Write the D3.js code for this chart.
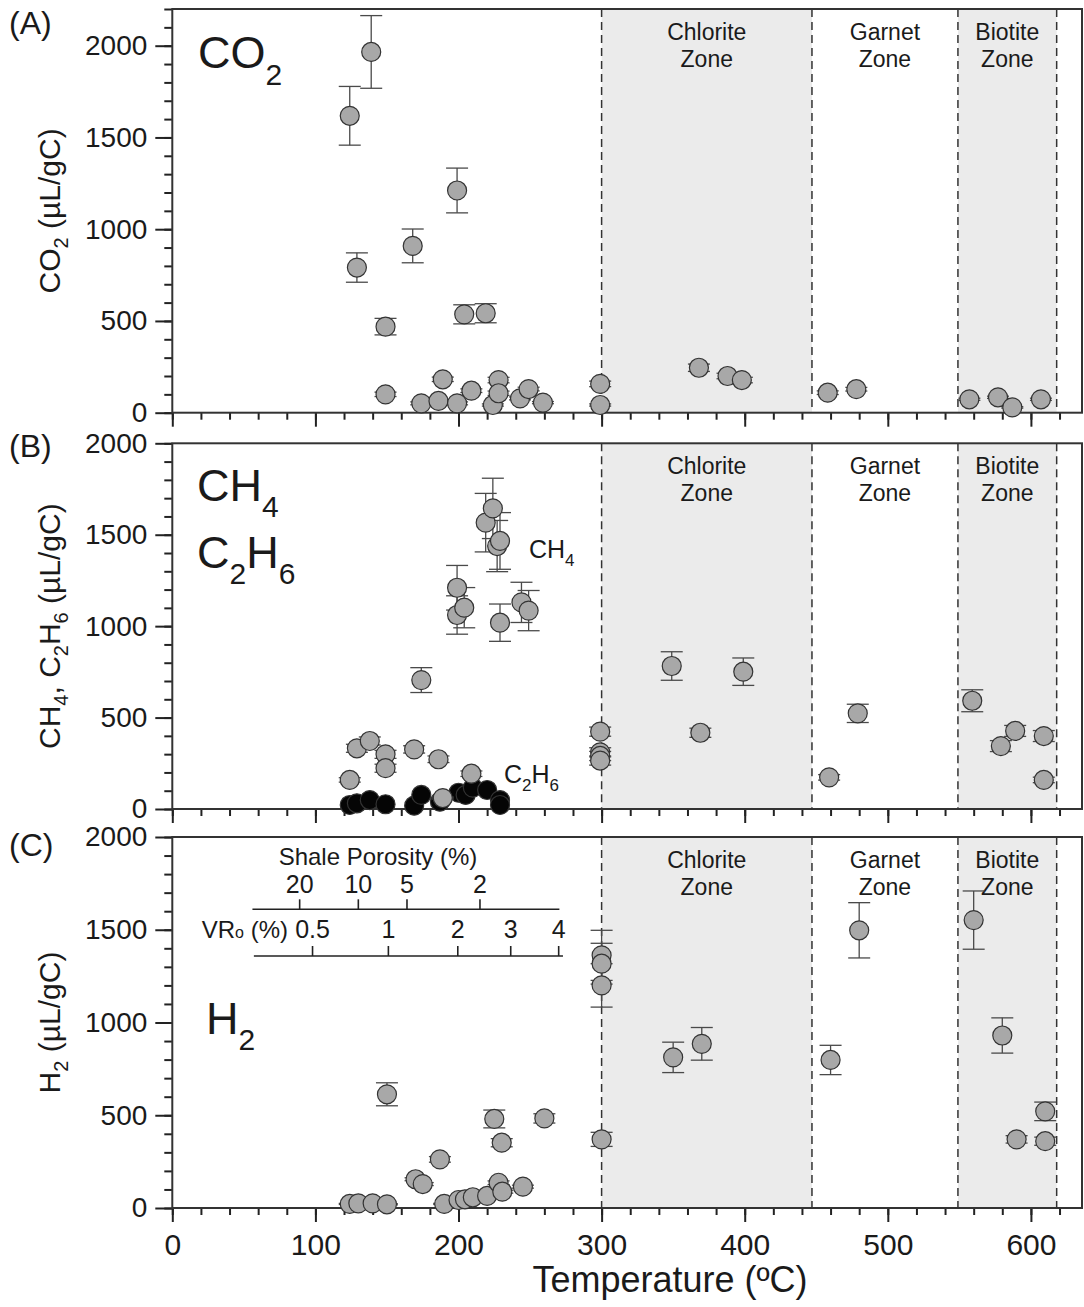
<!DOCTYPE html>
<html>
<head>
<meta charset="utf-8">
<script src="https://cdn.jsdelivr.net/npm/d3@7"></script>
<style>
  body { margin: 0; background: #fff; }
  svg text { font-family: "Liberation Sans", Arial, Helvetica, sans-serif; fill: #1a1a1a; }
</style>
</head>
<body>
<svg id="chart" width="1084" height="1307"></svg>
<script>
// ---- data (temperature in ºC, gas yield in µL/gC) ----
const co2T = [124, 139, 129, 168, 149, 149, 174, 186, 189, 199, 199, 204, 209, 219, 224, 228, 228, 243, 249, 259, 299, 299, 368, 388, 398, 458, 478, 557, 577, 587, 607]
const co2V = [1618, 1966, 791, 909, 469, 100, 51, 64, 182, 51, 1211, 536, 120, 542, 42, 178, 106, 78, 129, 55, 157, 42, 245, 200, 178, 109, 128, 73, 84, 29, 73]
const co2E = [160, 198, 80, 92, 45, 12, 8, 8, 12, 8, 122, 52, 10, 52, 6, 15, 12, 8, 10, 6, 15, 6, 20, 15, 15, 10, 10, 6, 6, 4, 6]

const ch4T = [124, 129, 138, 149, 149, 169, 174, 186, 189, 199, 199, 204, 209, 219, 224, 227, 229, 229, 244, 249, 299, 299, 299, 299, 349, 369, 399, 459, 479, 559, 579, 589, 609, 609]
const ch4V = [159, 332, 372, 299, 223, 326, 705, 272, 60, 1210, 1061, 1101, 193, 1566, 1644, 1438, 1466, 1019, 1130, 1085, 423, 310, 290, 265, 782, 417, 751, 173, 523, 592, 344, 427, 399, 159]
const ch4E = [12, 22, 22, 22, 22, 20, 68, 18, 5, 122, 105, 110, 15, 160, 165, 140, 155, 102, 110, 110, 25, 25, 25, 25, 78, 25, 75, 15, 50, 60, 30, 30, 30, 15]

const c2h6T = [124, 129, 138, 149, 169, 174, 187, 200, 205, 210, 220, 229, 229]
const c2h6V = [22, 31, 49, 26, 18, 77, 40, 89, 77, 117, 104, 49, 22]

const h2T = [124, 130, 140, 150, 150, 170, 175, 187, 190, 200, 204.5, 210, 220, 225, 228, 230.6, 230.2, 245, 260, 300, 300, 300, 300, 350, 370, 460, 480, 560, 580, 590, 610, 610]
const h2V = [22, 25, 25, 20, 613, 155, 129, 262, 22, 43, 47, 58, 65, 480, 136, 88, 352, 115, 483, 1362, 1317, 1200, 370, 812, 885, 798, 1497, 1552, 930, 370, 521, 360]
const h2E = [3, 3, 3, 3, 62, 8, 8, 15, 3, 4, 4, 5, 5, 48, 10, 8, 22, 8, 25, 135, 110, 117, 38, 82, 88, 79, 149, 157, 95, 20, 50, 22]

const zoneNames = ['Chlorite', 'Garnet', 'Biotite']
const zoneFrom = [300, 447, 549]
const zoneTo = [447, 549, 618]
const zoneShaded = [true, false, true]

// inset scales above panel C, placed at equivalent temperature
const porosityLabels = ['20', '10', '5', '2']
const porosityT = [89, 130, 164, 215]
const vroLabels = ['0.5', '1', '2', '3', '4']
const vroT = [98, 151, 199.5, 236.5, 270]

// ---- layout ----
const svg = d3.select('#chart')
const x = d3.scaleLinear().domain([0, 635.7]).range([172.3, 1082])

const panels = [
  { letter: '(A)', letterY: 34, top: 9, bottom: 412.7, max: 2200, title: 'CO_2 (µL/gC)' },
  { letter: '(B)', letterY: 457, top: 443.3, bottom: 809, max: 2000, title: 'CH_4, C_2H_6 (µL/gC)' },
  { letter: '(C)', letterY: 856, top: 837, bottom: 1208, max: 2000, title: 'H_2 (µL/gC)' }
]

// writes "CO_2" style strings with subscript digits
function chem(text, str, subSize, shift) {
  let down = false
  str.split(/(_\d)/).filter(s => s !== '').forEach(function(t) {
    if (t[0] === '_') {
      text.append('tspan').attr('font-size', subSize).attr('dy', down ? 0 : shift).text(t.slice(1))
      down = true
    } else {
      text.append('tspan').attr('dy', down ? -shift : 0).text(t)
      down = false
    }
  })
  return text
}

function styleAxis(g, size) {
  g.select('.domain').remove()
  g.selectAll('.tick line').attr('stroke', '#222').attr('stroke-width', 2)
  g.selectAll('.tick text').attr('font-size', size).attr('fill', '#1a1a1a')
}

panels.forEach(function(p, pi) {
  const y = d3.scaleLinear().domain([0, p.max]).range([p.bottom, p.top])
  const g = svg.append('g')

  // metamorphic zones
  zoneNames.forEach(function(name, i) {
    if (zoneShaded[i]) {
      g.append('rect')
        .attr('x', x(zoneFrom[i])).attr('y', p.top)
        .attr('width', x(zoneTo[i]) - x(zoneFrom[i])).attr('height', p.bottom - p.top)
        .attr('fill', '#ebebeb')
    }
    let cx = (x(zoneFrom[i]) + x(zoneTo[i])) / 2
    let label = g.append('text').attr('text-anchor', 'middle').attr('font-size', 23)
    label.append('tspan').attr('x', cx).attr('y', p.top + 31).text(name)
    label.append('tspan').attr('x', cx).attr('y', p.top + 58).text('Zone')
  })
  const bounds = zoneFrom.concat([zoneTo[zoneTo.length - 1]])
  g.selectAll('line.zone').data(bounds).join('line')
    .attr('x1', d => x(d)).attr('x2', d => x(d))
    .attr('y1', p.top).attr('y2', p.bottom)
    .attr('stroke', '#333').attr('stroke-width', 1.5).attr('stroke-dasharray', '8,5')

  // axes
  const xMinor = g.append('g').attr('transform', `translate(0,${p.bottom})`)
    .call(d3.axisBottom(x).tickValues(d3.range(0, 621, 20)).tickSize(7).tickFormat(''))
  styleAxis(xMinor, 30)
  const xMajor = g.append('g').attr('transform', `translate(0,${p.bottom})`)
    .call(d3.axisBottom(x).tickValues(d3.range(0, 601, 100)).tickSize(14).tickPadding(12)
      .tickFormat(pi === 2 ? d3.format('d') : ''))
  styleAxis(xMajor, 30)

  const yMinor = g.append('g').attr('transform', `translate(${x(0)},0)`)
    .call(d3.axisLeft(y).tickValues(d3.range(0, p.max + 1, 100)).tickSize(8).tickFormat(''))
  styleAxis(yMinor, 28)
  const yMajor = g.append('g').attr('transform', `translate(${x(0)},0)`)
    .call(d3.axisLeft(y).tickValues(d3.range(0, 2001, 500)).tickSize(17).tickPadding(8).tickFormat(d3.format('d')))
  styleAxis(yMajor, 28)

  g.append('rect')
    .attr('x', x.range()[0]).attr('y', p.top)
    .attr('width', x.range()[1] - x.range()[0]).attr('height', p.bottom - p.top)
    .attr('fill', 'none').attr('stroke', '#333').attr('stroke-width', 2)

  // panel letter and y title
  g.append('text').attr('x', 9).attr('y', p.letterY).attr('font-size', 32).text(p.letter)
  const mid = (p.top + p.bottom) / 2
  chem(g.append('text')
    .attr('transform', `translate(60,${mid}) rotate(-90)`)
    .attr('text-anchor', 'middle').attr('font-size', 30), p.title, 20, 8)

  p.g = g
  p.y = y
})

function drawPoints(p, T, V, E, fill) {
  const pts = T.map((t, i) => ({ t: t, v: V[i], e: E ? E[i] : 0 }))
  const bars = p.g.append('g').attr('stroke', '#4a4a4a').attr('stroke-width', 1.3)
  pts.filter(d => d.e > 0).forEach(function(d) {
    let cx = x(d.t)
    bars.append('line').attr('x1', cx).attr('x2', cx).attr('y1', p.y(d.v - d.e)).attr('y2', p.y(d.v + d.e))
    bars.append('line').attr('x1', cx - 11).attr('x2', cx + 11).attr('y1', p.y(d.v + d.e)).attr('y2', p.y(d.v + d.e))
    bars.append('line').attr('x1', cx - 11).attr('x2', cx + 11).attr('y1', p.y(d.v - d.e)).attr('y2', p.y(d.v - d.e))
  })
  p.g.append('g').selectAll('circle').data(pts).join('circle')
    .attr('cx', d => x(d.t)).attr('cy', d => p.y(d.v)).attr('r', 9.5)
    .attr('fill', fill).attr('stroke', '#333').attr('stroke-width', 1.2)
}

const [pA, pB, pC] = panels
drawPoints(pA, co2T, co2V, co2E, '#a8a8a8')
drawPoints(pB, c2h6T, c2h6V, null, '#050505')
drawPoints(pB, ch4T, ch4V, ch4E, '#a8a8a8')
drawPoints(pC, h2T, h2V, h2E, '#a8a8a8')

// big gas labels
chem(pA.g.append('text').attr('x', 198).attr('y', 68).attr('font-size', 45), 'CO_2', 30, 17)
chem(pB.g.append('text').attr('x', 197).attr('y', 501).attr('font-size', 45), 'CH_4', 30, 16)
chem(pB.g.append('text').attr('x', 197).attr('y', 568).attr('font-size', 45), 'C_2H_6', 30, 16)
chem(pC.g.append('text').attr('x', 206).attr('y', 1034).attr('font-size', 45), 'H_2', 30, 16)
chem(pB.g.append('text').attr('x', 529).attr('y', 558).attr('font-size', 25), 'CH_4', 17, 8)
chem(pB.g.append('text').attr('x', 504).attr('y', 783).attr('font-size', 25), 'C_2H_6', 17, 8)

// inset: shale porosity and vitrinite reflectance scales
const inset = pC.g.append('g')
const lineTop = 909.3, lineBot = 956
inset.append('line').attr('x1', x(56)).attr('x2', x(270.5)).attr('y1', lineTop).attr('y2', lineTop)
  .attr('stroke', '#222').attr('stroke-width', 1.6)
inset.append('line').attr('x1', x(57)).attr('x2', x(273)).attr('y1', lineBot).attr('y2', lineBot)
  .attr('stroke', '#222').attr('stroke-width', 1.6)
porosityT.forEach(function(t, i) {
  inset.append('line').attr('x1', x(t)).attr('x2', x(t)).attr('y1', lineTop).attr('y2', lineTop - 10)
    .attr('stroke', '#222').attr('stroke-width', 1.6)
  inset.append('text').attr('x', x(t)).attr('y', lineTop - 16).attr('text-anchor', 'middle')
    .attr('font-size', 25).text(porosityLabels[i])
})
vroT.forEach(function(t, i) {
  inset.append('line').attr('x1', x(t)).attr('x2', x(t)).attr('y1', lineBot).attr('y2', lineBot - 10)
    .attr('stroke', '#222').attr('stroke-width', 1.6)
  inset.append('text').attr('x', x(t)).attr('y', lineBot - 18).attr('text-anchor', 'middle')
    .attr('font-size', 25).text(vroLabels[i])
})
inset.append('text').attr('x', 378).attr('y', 865).attr('text-anchor', 'middle')
  .attr('font-size', 24).text('Shale Porosity (%)')
const vro = inset.append('text').attr('x', 288).attr('y', lineBot - 18).attr('text-anchor', 'end').attr('font-size', 24)
vro.append('tspan').text('VR')
vro.append('tspan').attr('font-size', 16).text('o')
vro.append('tspan').text(' (%)')

// x title
svg.append('text').attr('x', 670).attr('y', 1292).attr('text-anchor', 'middle')
  .attr('font-size', 36).text('Temperature (ºC)')
</script>
</body>
</html>
